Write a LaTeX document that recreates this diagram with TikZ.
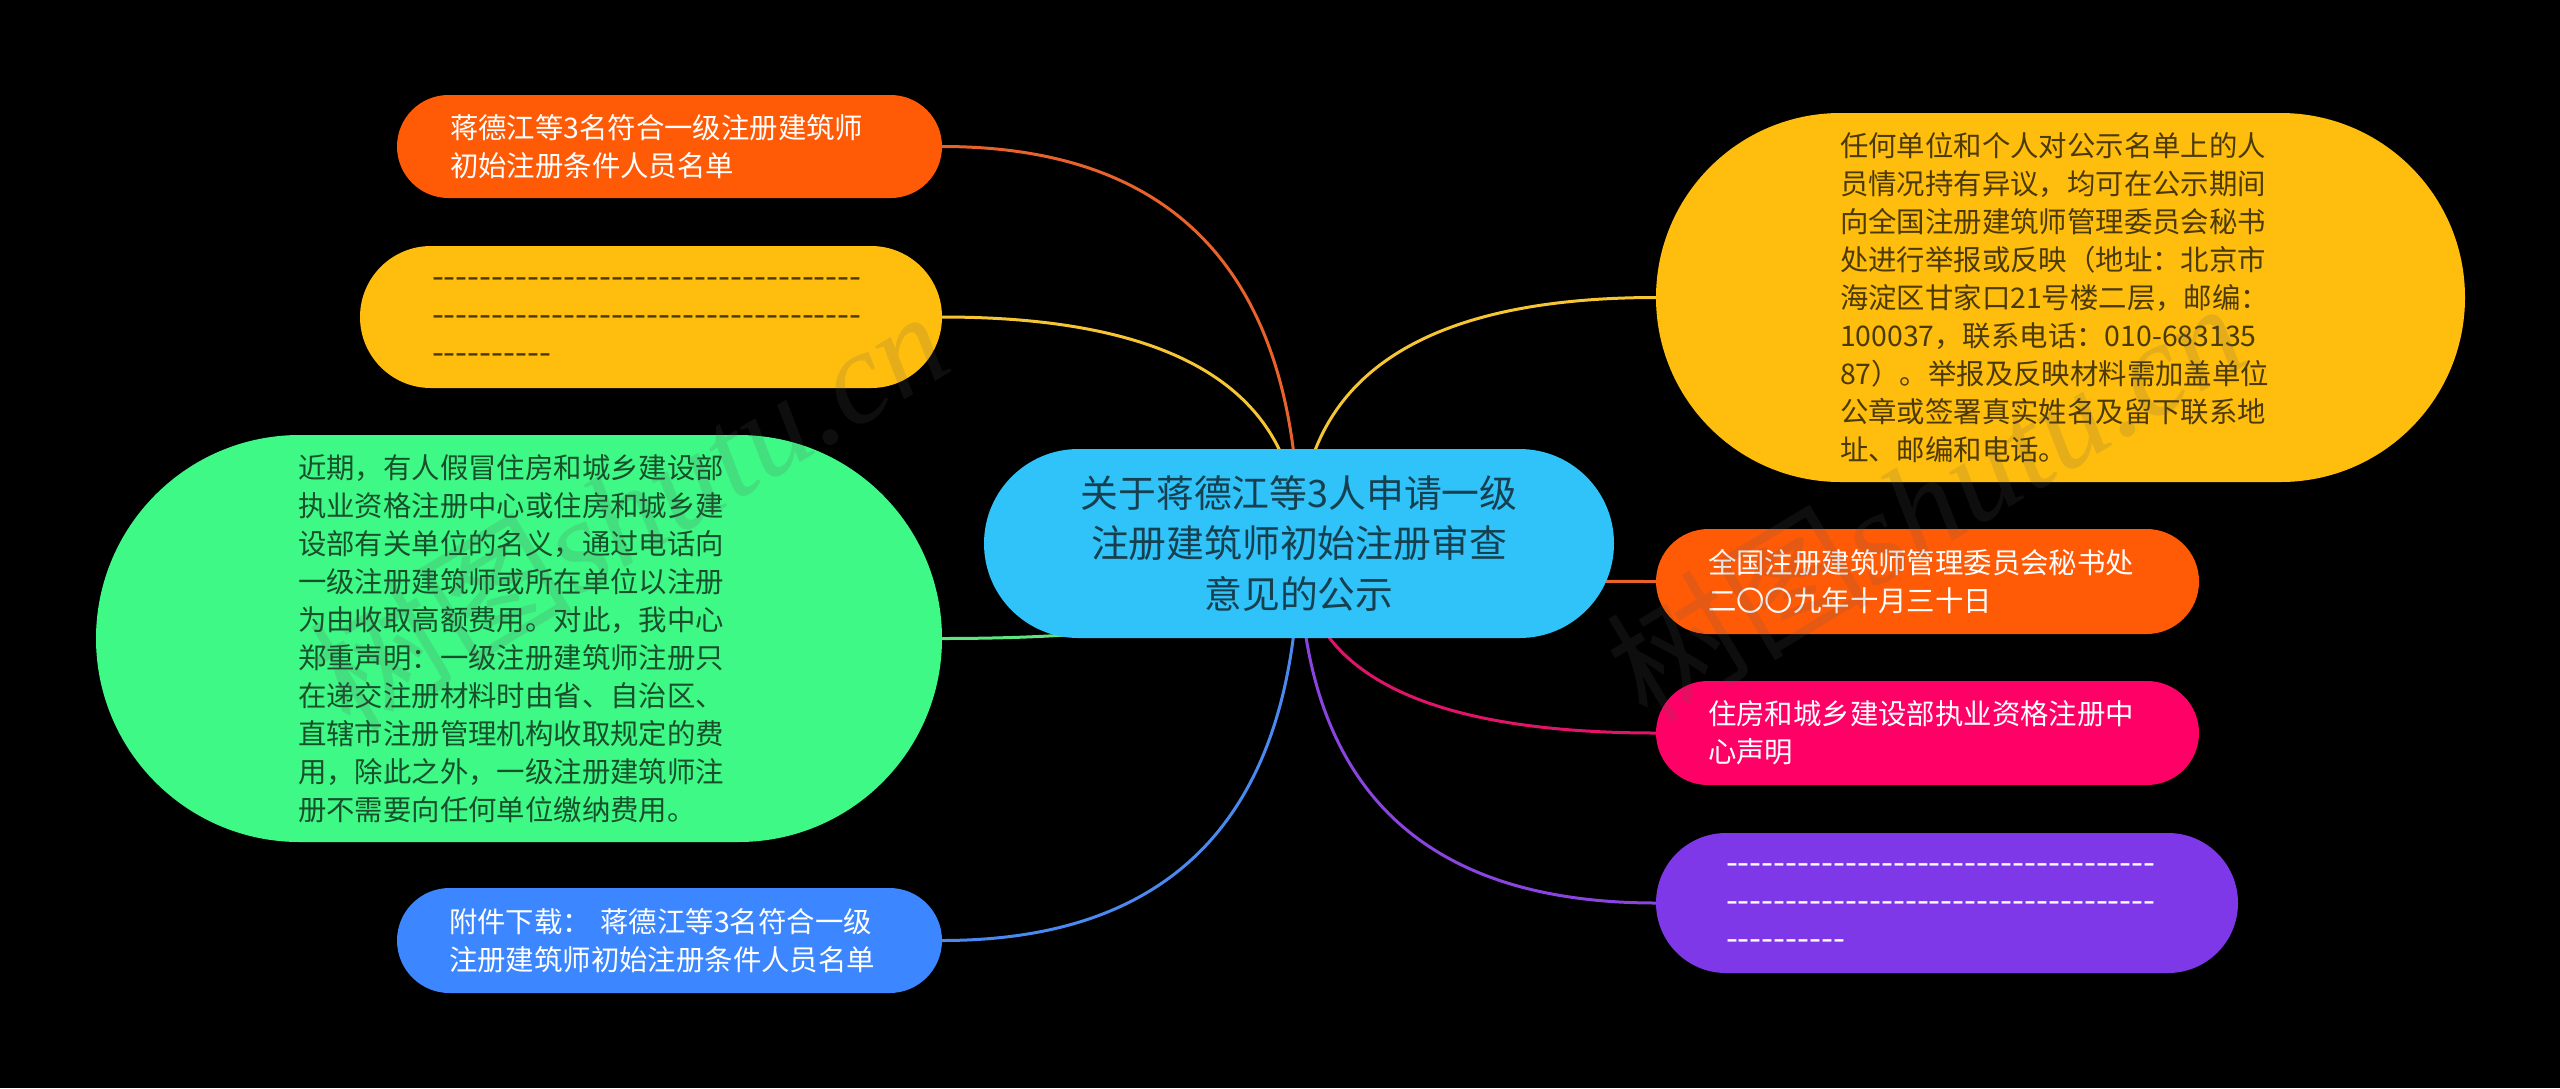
\documentclass[tikz,border=0pt]{standalone}
\usepackage{fontspec}
\newfontfamily\cjk{Noto Sans CJK SC}
\newfontfamily\wmserif{Liberation Serif}
\usetikzlibrary{calc}
\pgfdeclarelayer{bg}
\pgfsetlayers{bg,main}
\definecolor{cOrange}{HTML}{FF5A06}
\definecolor{cYellow}{HTML}{FFBE0D}
\definecolor{cGreen}{HTML}{3FF986}
\definecolor{cSky}{HTML}{2FC3F9}
\definecolor{cBlue}{HTML}{3C87FF}
\definecolor{cPink}{HTML}{FF0066}
\definecolor{cPurple}{HTML}{7E38E8}
\definecolor{lOrange}{HTML}{E8622B}
\definecolor{lYellow}{HTML}{F5C534}
\definecolor{lGreen}{HTML}{5FE57F}
\definecolor{lBlue}{HTML}{4A8AF0}
\definecolor{lPink}{HTML}{E0146A}
\definecolor{lPurple}{HTML}{8A45E0}
\definecolor{tSky}{HTML}{16404F}
\definecolor{tGreen}{HTML}{17502B}
\definecolor{tYellow}{HTML}{4C3A06}
\definecolor{wmGray}{gray}{0.35}
\tikzset{
  x=1pt,y=-1pt,
  pill/.style n args={3}{rectangle,inner sep=0pt,outer sep=0pt,
    minimum width=#1pt,minimum height=#2pt,text width=#3pt,align=left,
    rounded corners=#2pt/2,font=\cjk\fontsize{28.4}{38}\selectfont},
  dashtext/.style={font=\cjk\fontsize{34.4}{38}\selectfont},
  link/.style={line width=3pt},
  mark text/.style={rotate=31,text=wmGray,text opacity=0.16,inner sep=0pt,
    font=\fontsize{132}{132}\selectfont}
}
\newcommand{\linkleft}[2]{%
  \draw[link,#1] (#2.east) .. controls ($(#2.east)!0.6667!(#2.east -| c.center)$)
    and ($(c.center)!0.6667!(#2.east -| c.center)$) .. (c.center);}
\newcommand{\linkright}[2]{%
  \draw[link,#1] (#2.west) .. controls ($(#2.west)!0.6667!(#2.west -| c.center)$)
    and ($(c.center)!0.6667!(#2.west -| c.center)$) .. (c.center);}
\begin{document}
\begin{tikzpicture}
\useasboundingbox (0,0) rectangle (2560,1088);

\node[pill={630}{189}{600},fill=cSky,text=tSky,align=center,font=\cjk\fontsize{37.8}{50.5}\selectfont] (c) at (1299,543.5)
  {关于蒋德江等3人申请一级\\注册建筑师初始注册审查\\意见的公示};

\node[pill={545}{103}{439},fill=cOrange,text=white] (o1) at (669.5,146.5)
  {蒋德江等3名符合一级注册建筑师\\初始注册条件人员名单};
\node[pill={582}{142}{438},fill=cYellow,text=tYellow,dashtext] (y1) at (651,317)
  {\rule{0pt}{19pt}------------------------------------\\------------------------------------\\----------};
\node[pill={846}{407}{442},fill=cGreen,text=tGreen] (g) at (519,638.5)
  {近期，有人假冒住房和城乡建设部\\执业资格注册中心或住房和城乡建\\设部有关单位的名义，通过电话向\\一级注册建筑师或所在单位以注册\\为由收取高额费用。对此，我中心\\郑重声明：一级注册建筑师注册只\\在递交注册材料时由省、自治区、\\直辖市注册管理机构收取规定的费\\用，除此之外，一级注册建筑师注\\册不需要向任何单位缴纳费用。};
\node[pill={545}{105}{441},fill=cBlue,text=white] (b) at (669.5,940.5)
  {附件下载： 蒋德江等3名符合一级\\注册建筑师初始注册条件人员名单};

\node[pill={809}{369}{441},fill=cYellow,text=tYellow] (yr) at (2060.5,297.5)
  {任何单位和个人对公示名单上的人\\员情况持有异议，均可在公示期间\\向全国注册建筑师管理委员会秘书\\处进行举报或反映（地址：北京市\\海淀区甘家口21号楼二层，邮编：\\100037，联系电话：010-683135\\87）。举报及反映材料需加盖单位\\公章或签署真实姓名及留下联系地\\址、邮编和电话。};
\node[pill={543}{105}{439},fill=cOrange,text=white] (or) at (1927.5,581.5)
  {全国注册建筑师管理委员会秘书处\\二〇〇九年十月三十日};
\node[pill={543}{104}{439},fill=cPink,text=white] (p) at (1927.5,733)
  {住房和城乡建设部执业资格注册中\\心声明};
\node[pill={582}{140}{442},fill=cPurple,text=white,dashtext] (pu) at (1947,903)
  {\rule{0pt}{19pt}------------------------------------\\------------------------------------\\----------};

\begin{pgfonlayer}{bg}
  \fill[black] (0,0) rectangle (2560,1088);
  \linkleft{lOrange}{o1}
  \linkleft{lYellow}{y1}
  \linkleft{lGreen}{g}
  \linkleft{lBlue}{b}
  \linkright{lYellow}{yr}
  \linkright{lOrange}{or}
  \linkright{lPink}{p}
  \linkright{lPurple}{pu}
\end{pgfonlayer}

\node[mark text] (wm1) at (628,508) {{\cjk 树图}{\wmserif\itshape shutu.cn}};
\node[mark text] (wm2) at (1925,500) {{\cjk 树图}{\wmserif\itshape shutu.cn}};
\end{tikzpicture}
\end{document}
